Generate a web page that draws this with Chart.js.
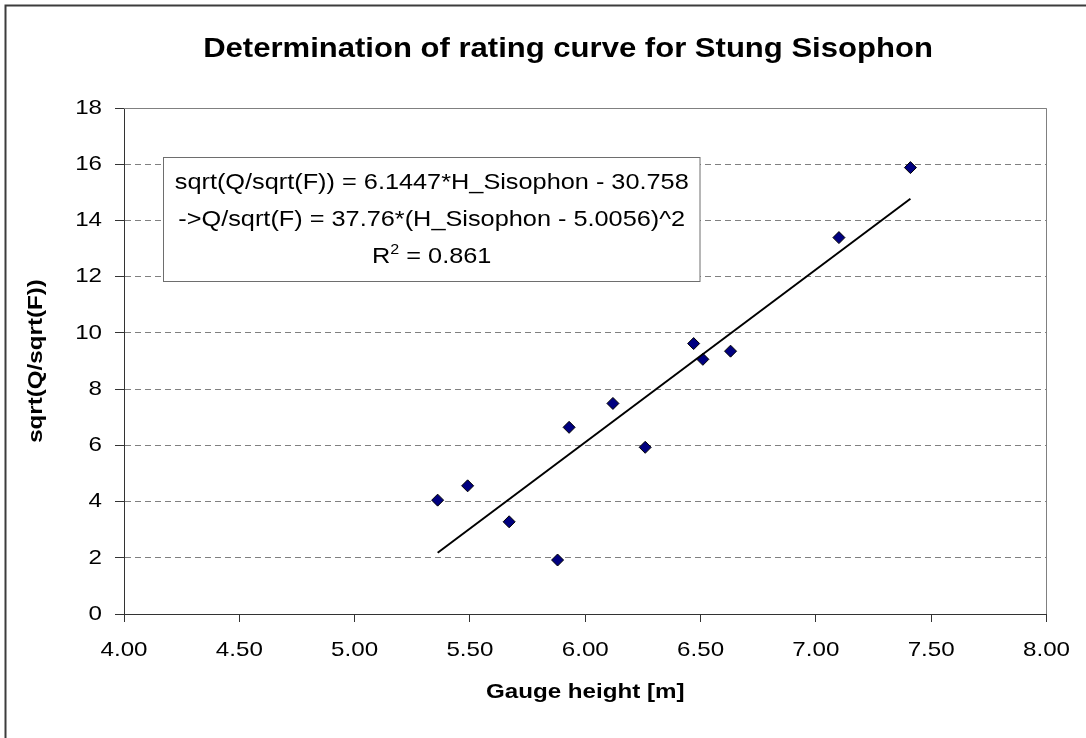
<!DOCTYPE html>
<html>
<head>
<meta charset="utf-8">
<script src="https://cdn.jsdelivr.net/npm/chart.js@4.4.1/dist/chart.umd.min.js"></script>
<style>
  html, body { margin: 0; padding: 0; background: #fff; }
  canvas { display: block; }
</style>
</head>
<body>
<canvas id="c" width="1086" height="738"></canvas>
<script>
// ---- chart content ----
const chartTitle = 'Determination of rating curve for Stung Sisophon';
const xAxisTitle = 'Gauge height [m]';
const yAxisTitle = 'sqrt(Q/sqrt(F))';

// observed gauge heights [m] and sqrt(Q/sqrt(F))
const gaugeHeight = [5.36, 5.49, 5.67, 5.88, 5.93, 6.12, 6.26, 6.47, 6.51, 6.63, 7.10, 7.41];
const sqrtQF      = [4.05, 4.56, 3.28, 1.92, 6.64, 7.49, 5.93, 9.62, 9.06, 9.35, 13.39, 15.88];

// linear fit: sqrt(Q/sqrt(F)) = slope * H + intercept
const trendSlope = 6.1447;
const trendIntercept = -30.758;
const equationLines = [
  'sqrt(Q/sqrt(F)) = 6.1447*H_Sisophon - 30.758',
  '->Q/sqrt(F) = 37.76*(H_Sisophon - 5.0056)^2'
];
const rSquaredText = '0.861';

// axis ranges
const xRange = [4, 8];
const xStep = 0.5;
const yRange = [0, 18];
const yStep = 2;

// ---- drawing ----
const FONT = "'Liberation Sans', Arial, sans-serif";
const TEXT_STRETCH = 1.15;   // type in this chart is set slightly wide

const canvas = document.getElementById('c');
const ctx = canvas.getContext('2d');

// widen every piece of text drawn on this context
(function widenText(c, sx) {
  const fill = c.fillText.bind(c);
  const measure = c.measureText.bind(c);
  c.fillText = function (text, x, y, maxWidth) {
    this.save();
    this.translate(x, y);
    this.scale(sx, 1);
    if (maxWidth === undefined || maxWidth === null) fill(text, 0, 0);
    else fill(text, 0, 0, maxWidth / sx);
    this.restore();
  };
  c.measureText = function (text) {
    const m = measure(text);
    return {
      width: m.width * sx,
      actualBoundingBoxAscent: m.actualBoundingBoxAscent,
      actualBoundingBoxDescent: m.actualBoundingBoxDescent,
      actualBoundingBoxLeft: m.actualBoundingBoxLeft * sx,
      actualBoundingBoxRight: m.actualBoundingBoxRight * sx,
      fontBoundingBoxAscent: m.fontBoundingBoxAscent,
      fontBoundingBoxDescent: m.fontBoundingBoxDescent
    };
  };
})(ctx, TEXT_STRETCH);

const points = gaugeHeight.map((h, i) => ({ x: h, y: sqrtQF[i] }));
const hMin = Math.min(...gaugeHeight);
const hMax = Math.max(...gaugeHeight);
const trendPoints = [
  { x: hMin, y: trendSlope * hMin + trendIntercept },
  { x: hMax, y: trendSlope * hMax + trendIntercept }
];

const decor = {
  id: 'decor',
  beforeDraw(chart) {
    const c = chart.ctx;
    c.save();
    c.fillStyle = '#ffffff';
    c.fillRect(0, 0, chart.width, chart.height);
    // outer frame
    c.strokeStyle = '#3c3c3c';
    c.lineWidth = 2;
    c.strokeRect(5.5, 5.5, chart.width + 40, chart.height + 40);
    // title
    c.fillStyle = '#000';
    c.font = 'bold 27px ' + FONT;
    c.textAlign = 'center';
    c.textBaseline = 'alphabetic';
    c.fillText(chartTitle, 568, 57);
    c.restore();
  },
  beforeDatasetsDraw(chart) {
    // plot area frame on the top and right sides
    const c = chart.ctx;
    const { top, right, bottom } = chart.chartArea;
    const t = Math.round(top) + 0.5;
    const r = Math.round(right) + 0.5;
    c.save();
    c.strokeStyle = '#808080';
    c.lineWidth = 1;
    c.beginPath();
    c.moveTo(chart.scales.x.left, t);
    c.lineTo(r, t);
    c.lineTo(r, bottom);
    c.stroke();
    c.restore();
  },
  afterDraw(chart) {
    // equation box
    const c = chart.ctx;
    const bx = 163.5, by = 157.5, bw = 536.5, bh = 124;
    const cx = bx + bw / 2;
    c.save();
    c.fillStyle = '#fff';
    c.fillRect(bx, by, bw, bh);
    c.strokeStyle = '#6e6e6e';
    c.lineWidth = 1;
    c.strokeRect(bx, by, bw, bh);
    c.fillStyle = '#000';
    c.font = '22px ' + FONT;
    c.textBaseline = 'alphabetic';
    c.textAlign = 'center';
    c.fillText(equationLines[0], cx, 189);
    c.fillText(equationLines[1], cx, 226);
    // R² line
    const base = 'R';
    const rest = ' = ' + rSquaredText;
    c.font = '22px ' + FONT;
    const wR = c.measureText(base).width;
    const wRest = c.measureText(rest).width;
    c.font = '14px ' + FONT;
    const wSup = c.measureText('2').width;
    const total = wR + wSup + wRest;
    let x = cx - total / 2;
    c.textAlign = 'left';
    c.font = '22px ' + FONT;
    c.fillText(base, x, 263);
    x += wR;
    c.font = '14px ' + FONT;
    c.fillText('2', x, 254);
    x += wSup;
    c.font = '22px ' + FONT;
    c.fillText(rest, x, 263);
    c.restore();
  }
};

new Chart(ctx, {
  type: 'scatter',
  data: {
    datasets: [
      {
        label: 'Linear fit',
        type: 'line',
        data: trendPoints,
        borderColor: '#000000',
        borderWidth: 2,
        pointRadius: 0,
        fill: false,
        tension: 0
      },
      {
        label: 'sqrt(Q/sqrt(F))',
        data: points,
        pointStyle: 'rectRot',
        pointRadius: 6,
        pointHoverRadius: 6,
        backgroundColor: '#000080',
        borderColor: '#000000',
        borderWidth: 1
      }
    ]
  },
  options: {
    responsive: false,
    devicePixelRatio: 1,
    animation: false,
    events: [],
    layout: { padding: { top: 108, right: 38, bottom: 0, left: 0 } },
    plugins: {
      legend: { display: false },
      title: { display: false },
      tooltip: { enabled: false }
    },
    scales: {
      x: {
        type: 'linear',
        min: xRange[0],
        max: xRange[1],
        afterFit(scale) { scale.height = 124; },
        ticks: {
          stepSize: xStep,
          padding: 16,
          color: '#000',
          font: { family: FONT, size: 21 },
          callback: v => Number(v).toFixed(2)
        },
        grid: {
          drawOnChartArea: false,
          drawTicks: true,
          tickLength: 8,
          tickColor: '#333333',
          color: '#333333'
        },
        border: { color: '#333333', width: 1 },
        title: {
          display: true,
          text: xAxisTitle,
          color: '#000',
          font: { family: FONT, size: 21, weight: 'bold' },
          padding: { top: 0, bottom: 33 }
        }
      },
      y: {
        type: 'linear',
        min: yRange[0],
        max: yRange[1],
        afterFit(scale) { scale.width = 124; },
        ticks: {
          stepSize: yStep,
          padding: 13,
          color: '#000',
          font: { family: FONT, size: 21 }
        },
        grid: {
          drawOnChartArea: true,
          drawTicks: true,
          tickLength: 9,
          tickColor: '#333333',
          color: '#808080',
          lineWidth: 1
        },
        border: { color: '#333333', width: 1, dash: [6, 4] },
        title: {
          display: true,
          text: yAxisTitle,
          color: '#000',
          font: { family: FONT, size: 21, weight: 'bold' },
          padding: { top: 24, bottom: 0 }
        }
      }
    }
  },
  plugins: [decor]
});
</script>
</body>
</html>
